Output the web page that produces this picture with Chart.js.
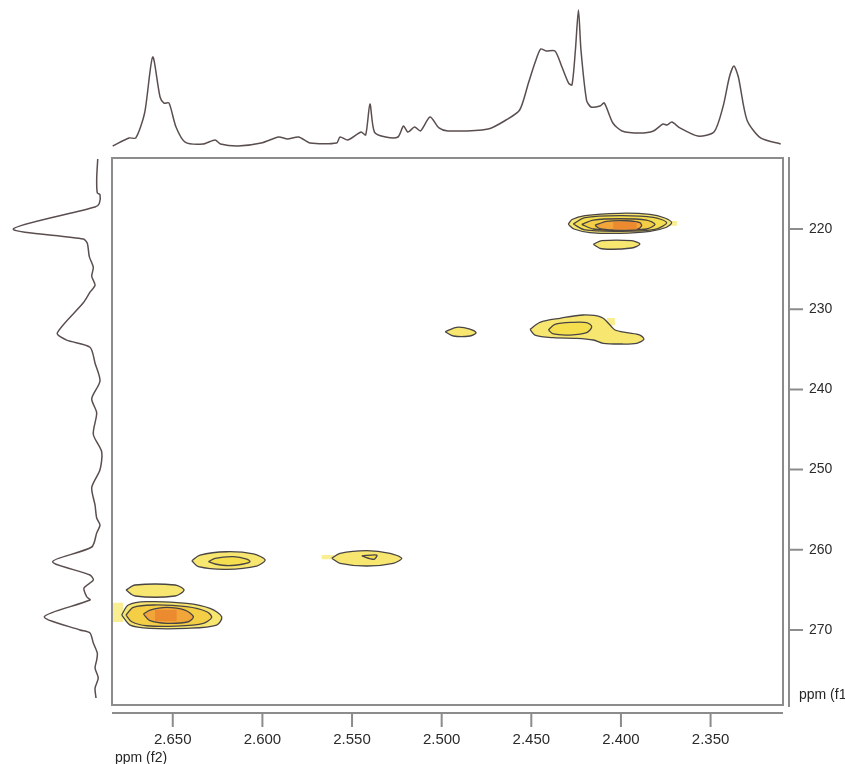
<!DOCTYPE html>
<html>
<head>
<meta charset="utf-8">
<script src="https://cdn.jsdelivr.net/npm/chart.js@4.4.0/dist/chart.umd.min.js"></script>
<style>
  html, body { margin: 0; padding: 0; background: #fff; }
  #wrap { position: relative; width: 845px; height: 764px; overflow: hidden; }
  canvas { position: absolute; }
  #mainChart { left: 0; top: 0; }
  #topChart { left: 112px; top: 0; }
  #leftChart { left: 0; top: 158px; }
</style>
</head>
<body>
<div id="wrap">
  <canvas id="mainChart" width="845" height="764"></canvas>
  <canvas id="topChart" width="671" height="157"></canvas>
  <canvas id="leftChart" width="112" height="547"></canvas>
</div>
<script>
// axis ranges (ppm)
const f2Min = 2.3096, f2Max = 2.6839;
const f1Min = 211.147, f1Max = 279.35;

// 1D projection along f2 (top), intensity in arbitrary units
const topPpm = [2.6835, 2.6744, 2.6706, 2.6657, 2.6612, 2.6571, 2.6549, 2.6521, 2.6482, 2.6431,
  2.6331, 2.6264, 2.6234, 2.6136, 2.6007, 2.5909, 2.5860, 2.5798, 2.5734, 2.5586,
  2.5567, 2.5523, 2.5450, 2.5424, 2.5400, 2.5375, 2.5312, 2.5244, 2.5213, 2.5188,
  2.5151, 2.5118, 2.5065, 2.5015, 2.4965, 2.4741, 2.4641, 2.4565, 2.4516, 2.4480,
  2.4448, 2.4418, 2.4368, 2.4329, 2.4292, 2.4273, 2.4254, 2.4237, 2.4223, 2.4192,
  2.4167, 2.4117, 2.4093, 2.4045, 2.3994, 2.3894, 2.3819, 2.3766, 2.3743, 2.3716,
  2.3671, 2.3571, 2.3481, 2.3431, 2.3395, 2.3370, 2.3345, 2.3297, 2.3221, 2.3109];
const topInt = [0.7, 6.6, 6.6, 24.8, 65.7, 36.5, 32.1, 32.1, 14.6, 3.6,
  2.2, 5.1, 2.2, 0.7, 2.9, 7.3, 5.8, 7.3, 2.9, 2.9,
  7.3, 5.1, 10.9, 8.8, 31.4, 10.9, 7.3, 7.3, 15.3, 10.9,
  14.6, 11.7, 21.9, 13.9, 11.7, 13.1, 19.7, 27.0, 46.7, 61.3,
  71.5, 70.1, 70.1, 58.4, 46.7, 45.3, 70.8, 100, 70.8, 34.3,
  29.2, 29.9, 32.1, 17.5, 11.7, 10.2, 11.7, 16.8, 16.1, 18.2,
  13.9, 8.0, 10.9, 29.2, 51.1, 59.1, 51.1, 19.7, 6.6, 2.2];

// 1D projection along f1 (left)
const leftPpm = [211.27, 213.72, 215.49, 215.71, 216.81, 217.26, 220.0, 221.25, 221.77, 223.45,
  224.78, 225.89, 227.0, 227.88, 229.2, 232.97, 233.85, 234.74, 236.73, 238.95,
  241.16, 242.93, 245.59, 247.81, 250.01, 252.22, 254.44, 256.04, 256.91, 257.91,
  259.65, 261.48, 263.14, 263.77, 264.76, 265.85, 266.26, 268.34, 270.0, 270.37,
  271.62, 272.87, 273.74, 274.74, 275.99, 277.23, 278.48];
const leftInt = [2.6, 3.8, 3.1, 0, 0.8, 5.7, 99.7, 19.2, 14.6, 12.3,
  7.7, 9.5, 5.7, 11.5, 19.2, 49.1, 38.3, 11.5, 5.7, 0,
  9.5, 3.8, 7.7, -2.0, 0, 9.5, 5.7, 3.8, 0, 3.8,
  9.5, 54.4, 11.5, 7.7, 18.4, 15.3, 11.5, 64.0, 23.0, 11.5,
  7.7, 3.1, 3.8, 5.7, 2.0, 5.7, 4.6];

// contour outlines [f2 ppm, f1 ppm]
const pk220Outer = [[2.4294,219.42],[2.4273,218.82],[2.4201,218.32],[2.4006,218.04],[2.3838,218.17],[2.3755,218.63],
  [2.3717,219.21],[2.3749,219.81],[2.3838,220.29],[2.4006,220.54],[2.4173,220.44],[2.4262,220.0]];
const pk220Mid = [[2.4266,219.38],[2.4201,218.59],[2.4006,218.34],[2.3820,218.54],[2.3745,219.21],[2.3810,220.04],[2.4006,220.29],[2.4201,220.12]];
const pk220In = [[2.4219,219.42],[2.4154,218.88],[2.4006,218.72],[2.3857,218.88],[2.3810,219.42],[2.3857,220.0],[2.4006,220.16],[2.4154,220.0]];
const pk220Core = [[2.4145,219.54],[2.4080,219.04],[2.3968,218.97],[2.3894,219.21],[2.3885,219.63],[2.3912,220.04],[2.4043,220.12],[2.4117,219.96]];
const pk220Peak = [[2.4043,219.13],[2.3912,219.13],[2.3912,220.06],[2.4043,220.06]];
const pk222 = [[2.4154,221.91],[2.4108,221.46],[2.3940,221.46],[2.3894,221.87],[2.3940,222.37],[2.4108,222.46]];
const pk233a = [[2.4981,232.81],[2.4916,232.26],[2.4842,232.47],[2.4808,232.93],[2.4842,233.34],[2.4935,233.34]];
const pk233Outer = [[2.4507,232.51],[2.4452,231.63],[2.4340,231.13],[2.4210,230.72],[2.4108,231.01],[2.4061,231.97],
  [2.4033,232.59],[2.3968,232.93],[2.3894,233.22],[2.3872,233.76],[2.3912,234.25],[2.4006,234.34],
  [2.4099,234.25],[2.4154,233.84],[2.4247,233.63],[2.4377,233.55],[2.4480,233.22]];
const pk233In = [[2.4405,232.59],[2.4368,231.88],[2.4266,231.63],[2.4191,231.68],[2.4163,232.18],[2.4191,232.93],[2.4284,233.22],[2.4377,233.09]];
const pk261aOuter = [[2.6394,261.36],[2.6348,260.65],[2.6199,260.24],[2.6050,260.52],[2.5985,261.27],[2.6032,262.02],[2.6199,262.43],[2.6357,262.11]];
const pk261aIn = [[2.6301,261.48],[2.6264,261.06],[2.6162,260.86],[2.6087,261.15],[2.6069,261.48],[2.6106,261.77],[2.6190,261.98],[2.6264,261.77]];
const pk261bOuter = [[2.5613,261.06],[2.5567,260.44],[2.5418,260.11],[2.5288,260.44],[2.5223,261.06],[2.5270,261.68],[2.5418,262.02],[2.5567,261.68]];
const pk261bIn = [[2.5446,260.77],[2.5362,260.65],[2.5377,261.18]];
const pk265 = [[2.6761,265.01],[2.6710,264.39],[2.6487,264.39],[2.6437,265.01],[2.6487,265.76],[2.6710,265.76]];
const pk268Outer = [[2.6785,268.13],[2.6748,266.88],[2.6645,266.47],[2.6422,266.67],[2.6292,267.30],[2.6227,268.34],
  [2.6255,269.38],[2.6422,269.79],[2.6627,269.79],[2.6738,269.38]];
const pk268Mid = [[2.6761,268.13],[2.6720,267.17],[2.6608,266.88],[2.6422,267.09],[2.6310,267.72],[2.6283,268.42],
  [2.6329,269.17],[2.6478,269.51],[2.6645,269.47],[2.6729,268.97]];
const pk268In = [[2.6664,268.01],[2.6627,267.51],[2.6534,267.17],[2.6432,267.51],[2.6385,268.34],[2.6413,268.97],[2.6534,269.17],[2.6627,268.84]];
const pk268Peak = [[2.6599,267.51],[2.6478,267.51],[2.6478,268.88],[2.6599,268.88]];
// faint intensity fringes with no contour line
const fringeA = [[2.3730,219.0],[2.3688,219.0],[2.3688,219.6],[2.3730,219.6]];
const fringeB = [[2.5669,260.65],[2.5601,260.65],[2.5601,261.18],[2.5669,261.18]];
const fringeC = [[2.6835,266.6],[2.6777,266.6],[2.6777,269.0],[2.6835,269.0]];
const fringeD = [[2.4079,231.1],[2.4033,231.1],[2.4033,232.0],[2.4079,232.0]];

const xTickStep = 0.05, yTickStep = 10;

// level 0 = fringe, 5 = peak top (both unstroked)
const levelFill = ['#f9ee92', '#f7e670', '#f5df4e', '#f4cf45', '#f2a63a', '#ec8a30'];
const shapes = [
  [fringeA, 0], [fringeB, 0], [fringeC, 0], [fringeD, 0],
  [pk220Outer, 1], [pk220Mid, 2], [pk220In, 3], [pk220Core, 4], [pk220Peak, 5],
  [pk222, 1], [pk233a, 1], [pk233Outer, 1], [pk233In, 2],
  [pk261aOuter, 1], [pk261aIn, 2], [pk261bOuter, 1], [pk261bIn, 2],
  [pk265, 1], [pk268Outer, 1], [pk268Mid, 3], [pk268In, 4], [pk268Peak, 5]
];

Chart.defaults.font.family = "'Liberation Sans', Arial, sans-serif";

document.addEventListener("DOMContentLoaded", () => {
    const datasets = shapes.map(([pts, level]) => {
        const stroked = level > 0 && level < 5;
        return {
            data: pts.concat([pts[0]]).map(p => ({ x: p[0], y: p[1] })),
            showLine: true,
            fill: 'shape',
            backgroundColor: levelFill[level],
            borderColor: stroked ? '#4a4545' : 'rgba(0,0,0,0)',
            borderWidth: stroked ? 1.3 : 0,
            tension: stroked ? 0.3 : 0,
            pointRadius: 0,
            order: -level
        };
    });

    const frame = {
        id: 'frame',
        afterDraw(chart) {
            const { ctx, chartArea: a, scales: { x, y } } = chart;
            ctx.save();
            ctx.strokeStyle = '#8c8c8c';
            ctx.lineWidth = 2;
            ctx.strokeRect(a.left, a.top, a.right - a.left, a.bottom - a.top);

            const ax = a.bottom + 8;
            ctx.beginPath();
            ctx.moveTo(a.left, ax);
            ctx.lineTo(a.right, ax);
            x.ticks.forEach(t => {
                const px = x.getPixelForValue(t.value);
                ctx.moveTo(px, ax);
                ctx.lineTo(px, ax + 14);
            });
            const ay = a.right + 6;
            ctx.moveTo(ay, a.top - 1);
            ctx.lineTo(ay, a.bottom + 2);
            y.ticks.forEach(t => {
                const py = y.getPixelForValue(t.value);
                ctx.moveTo(ay, py);
                ctx.lineTo(ay + 14, py);
            });
            ctx.stroke();

            ctx.fillStyle = '#262626';
            ctx.font = "14px 'Liberation Sans', Arial, sans-serif";
            ctx.textBaseline = 'middle';
            ctx.textAlign = 'left';
            ctx.fillText('ppm (f2)', 115, 758);
            ctx.fillText('ppm (f1)', a.right + 16, 695);
            ctx.restore();
        }
    };

    new Chart(document.getElementById('mainChart'), {
        type: 'scatter',
        data: { datasets: datasets },
        options: {
            responsive: false,
            animation: false,
            devicePixelRatio: 1,
            layout: { padding: { left: 112, top: 158, right: 0, bottom: 0 } },
            plugins: { legend: { display: false }, tooltip: { enabled: false } },
            scales: {
                x: {
                    type: 'linear',
                    position: 'bottom',
                    reverse: true,
                    min: f2Min,
                    max: f2Max,
                    grid: { display: false, drawTicks: false },
                    border: { display: false },
                    afterFit: s => { s.height = 59; },
                    ticks: {
                        stepSize: xTickStep,
                        includeBounds: false,
                        autoSkip: false,
                        maxRotation: 0,
                        padding: 26,
                        color: '#2b2b2b',
                        font: { size: 15 },
                        callback: v => v.toFixed(3)
                    }
                },
                y: {
                    type: 'linear',
                    position: 'right',
                    reverse: true,
                    min: f1Min,
                    max: f1Max,
                    grid: { display: false, drawTicks: false },
                    border: { display: false },
                    afterFit: s => { s.width = 62; },
                    ticks: {
                        stepSize: yTickStep,
                        includeBounds: false,
                        padding: 26,
                        color: '#2b2b2b',
                        font: { size: 14 },
                        callback: v => String(Math.round(v))
                    }
                }
            }
        },
        plugins: [frame]
    });

    const traceStyle = {
        showLine: true,
        fill: false,
        borderColor: '#5b4e4e',
        borderWidth: 1.5,
        pointRadius: 0,
        tension: 0.25
    };

    new Chart(document.getElementById('topChart'), {
        type: 'scatter',
        data: {
            datasets: [Object.assign({ data: topPpm.map((p, i) => ({ x: p, y: topInt[i] })) }, traceStyle)]
        },
        options: {
            responsive: false,
            animation: false,
            devicePixelRatio: 1,
            plugins: { legend: { display: false }, tooltip: { enabled: false } },
            scales: {
                x: { type: 'linear', display: false, reverse: true, min: f2Min, max: f2Max },
                y: { type: 'linear', display: false, min: -7.3, max: 107.3 }
            }
        }
    });

    new Chart(document.getElementById('leftChart'), {
        type: 'scatter',
        data: {
            datasets: [Object.assign({ data: leftPpm.map((p, i) => ({ x: leftInt[i], y: p })) }, traceStyle)]
        },
        options: {
            responsive: false,
            animation: false,
            devicePixelRatio: 1,
            plugins: { legend: { display: false }, tooltip: { enabled: false } },
            scales: {
                x: { type: 'linear', display: false, reverse: true, min: -13.79, max: 114.94 },
                y: { type: 'linear', display: false, reverse: true, min: f1Min, max: f1Max }
            }
        }
    });
});
</script>
</body>
</html>
